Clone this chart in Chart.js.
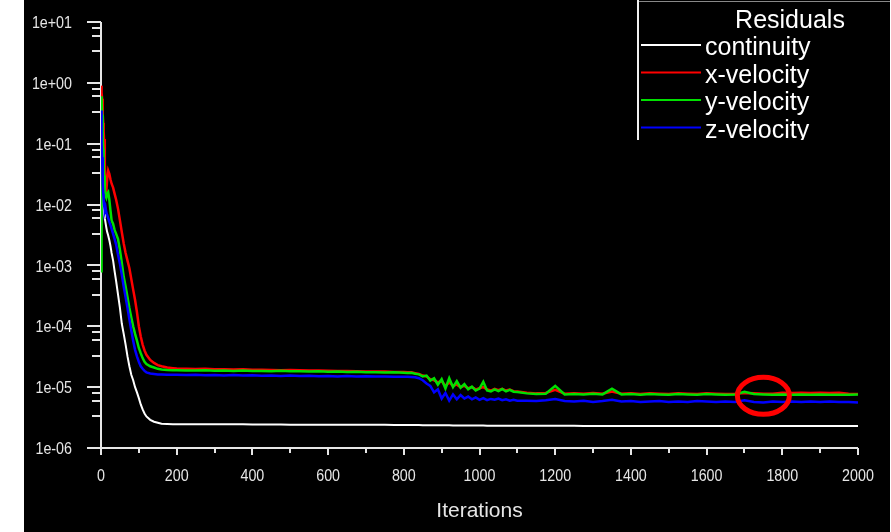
<!DOCTYPE html>
<html>
<head>
<meta charset="utf-8">
<script src="https://cdn.jsdelivr.net/npm/chart.js@4.4.1/dist/chart.umd.min.js"></script>
<style>
  html, body { margin: 0; padding: 0; background: #fff; }
  #wrap { position: absolute; left: 24px; top: 0; width: 866px; height: 532px; }
</style>
</head>
<body>
<div id="wrap"><canvas id="chart" width="866" height="532"></canvas></div>
<script>
// residual history
const iterations = [
  0, 1, 2, 3, 4, 5, 6, 7, 8, 10, 12, 14, 16, 19, 22, 25, 28, 32, 36, 40, 45,
  50, 55, 60, 65, 70, 75, 80, 85, 90, 95, 100, 105, 110, 115, 120, 130, 140, 150, 160, 175, 190,
  200, 225, 250, 275, 300, 325, 350, 375, 400, 425, 450, 475, 500, 525, 550, 575, 600,
  625, 650, 675, 700, 725, 750, 775, 800,
  810, 820, 830, 840, 850, 860, 870, 880, 890, 900, 910, 920, 930, 940, 950,
  960, 970, 980, 990, 1000, 1010, 1020, 1030, 1040, 1050, 1060, 1070, 1080, 1090, 1100,
  1125, 1150, 1175, 1200, 1225, 1250, 1275, 1300, 1325, 1350, 1375, 1400, 1425, 1450,
  1475, 1500, 1525, 1550, 1575, 1600, 1625, 1650, 1675, 1700, 1725, 1750, 1775, 1800,
  1825, 1850, 1875, 1900, 1925, 1950, 1975, 2000
];

const continuity = [
  0.05, 0.03, 0.02, 0.015, 0.012, 0.01, 0.009, 0.008, 0.007, 0.006, 0.005, 0.0042, 0.0036, 0.0031, 0.0026, 0.0021, 0.0016, 0.0012, 0.0008, 0.00055, 0.00033,
  0.0002, 0.00011, 7.5e-5, 5e-5, 3.2e-5, 2.2e-5, 1.6e-5, 1.3e-5, 1e-5, 8.2e-6, 6.6e-6, 5.2e-6, 4.3e-6, 3.7e-6, 3.3e-6, 2.9e-6, 2.7e-6, 2.6e-6, 2.5e-6, 2.48e-6, 2.45e-6,
  2.45e-6, 2.45e-6, 2.45e-6, 2.45e-6, 2.45e-6, 2.45e-6, 2.45e-6, 2.45e-6, 2.43e-6, 2.43e-6, 2.43e-6, 2.43e-6, 2.42e-6, 2.42e-6, 2.42e-6, 2.42e-6, 2.4e-6,
  2.4e-6, 2.4e-6, 2.4e-6, 2.4e-6, 2.4e-6, 2.4e-6, 2.38e-6, 2.38e-6,
  2.38e-6, 2.38e-6, 2.38e-6, 2.38e-6, 2.37e-6, 2.37e-6, 2.37e-6, 2.37e-6, 2.36e-6, 2.36e-6, 2.36e-6, 2.36e-6, 2.35e-6, 2.35e-6, 2.35e-6,
  2.35e-6, 2.35e-6, 2.34e-6, 2.34e-6, 2.34e-6, 2.34e-6, 2.33e-6, 2.33e-6, 2.33e-6, 2.33e-6, 2.32e-6, 2.32e-6, 2.32e-6, 2.32e-6, 2.32e-6,
  2.31e-6, 2.31e-6, 2.31e-6, 2.31e-6, 2.31e-6, 2.31e-6, 2.3e-6, 2.3e-6, 2.3e-6, 2.3e-6, 2.3e-6, 2.3e-6, 2.3e-6, 2.3e-6,
  2.3e-6, 2.3e-6, 2.3e-6, 2.3e-6, 2.3e-6, 2.3e-6, 2.3e-6, 2.3e-6, 2.3e-6, 2.3e-6, 2.3e-6, 2.3e-6, 2.3e-6, 2.3e-6,
  2.3e-6, 2.3e-6, 2.3e-6, 2.3e-6, 2.3e-6, 2.3e-6, 2.3e-6, 2.3e-6
];

const xVelocity = [
  0.9, 0.85, 0.7, 0.55, 0.4, 0.3, 0.22, 0.16, 0.12, 0.05, 0.02, 0.016, 0.025, 0.036, 0.032, 0.026, 0.022, 0.019, 0.015, 0.012, 0.0085,
  0.0055, 0.0035, 0.0023, 0.0016, 0.0012, 0.0009, 0.0006, 0.0004, 0.00027, 0.00017, 0.0001, 6.8e-5, 5e-5, 4e-5, 3.4e-5, 2.8e-5, 2.5e-5, 2.3e-5, 2.2e-5, 2.1e-5, 2.05e-5,
  2.02e-5, 2e-5, 1.98e-5, 2e-5, 1.96e-5, 1.97e-5, 1.95e-5, 1.96e-5, 1.93e-5, 1.94e-5, 1.92e-5, 1.9e-5, 1.91e-5, 1.89e-5, 1.88e-5, 1.87e-5, 1.86e-5,
  1.85e-5, 1.84e-5, 1.82e-5, 1.81e-5, 1.8e-5, 1.8e-5, 1.78e-5, 1.77e-5,
  1.76e-5, 1.75e-5, 1.7e-5, 1.65e-5, 1.55e-5, 1.5e-5, 1.35e-5, 1.3e-5, 1.2e-5, 1.25e-5, 1.05e-5, 1.2e-5, 1.05e-5, 1.1e-5, 1e-5,
  1.05e-5, 9.6e-6, 1e-5, 9.2e-6, 9.6e-6, 1e-5, 9.2e-6, 8.8e-6, 9.4e-6, 8.9e-6, 9.4e-6, 8.8e-6, 9.1e-6, 8.6e-6, 8.5e-6,
  8.1e-6, 7.9e-6, 8e-6, 9e-6, 7.8e-6, 7.9e-6, 7.8e-6, 8e-6, 7.8e-6, 8.5e-6, 7.8e-6, 7.9e-6, 7.7e-6, 7.9e-6,
  7.8e-6, 7.7e-6, 7.9e-6, 7.8e-6, 7.7e-6, 7.9e-6, 7.8e-6, 7.7e-6, 7.8e-6, 8e-6, 7.9e-6, 7.8e-6, 7.8e-6, 8.1e-6,
  8e-6, 8.1e-6, 8e-6, 8.1e-6, 8e-6, 8.1e-6, 7.8e-6, 7.7e-6
];

const yVelocity = [
  8e-4, 0.6, 0.5, 0.3, 0.2, 0.12, 0.08, 0.05, 0.03, 0.018, 0.014, 0.013, 0.015, 0.016, 0.012, 0.008, 0.0055, 0.0048, 0.0038, 0.0033, 0.0027,
  0.0018, 0.0011, 0.00065, 0.00045, 0.0003, 0.0002, 0.00014, 0.0001, 7.5e-5, 5.8e-5, 4.4e-5, 3.6e-5, 3e-5, 2.6e-5, 2.4e-5, 2.2e-5, 2.1e-5, 2e-5, 1.95e-5, 1.92e-5, 1.9e-5,
  1.9e-5, 1.88e-5, 1.87e-5, 1.9e-5, 1.86e-5, 1.87e-5, 1.85e-5, 1.88e-5, 1.84e-5, 1.85e-5, 1.83e-5, 1.86e-5, 1.82e-5, 1.83e-5, 1.8e-5, 1.82e-5, 1.79e-5,
  1.8e-5, 1.77e-5, 1.79e-5, 1.75e-5, 1.76e-5, 1.74e-5, 1.75e-5, 1.72e-5,
  1.7e-5, 1.72e-5, 1.66e-5, 1.62e-5, 1.5e-5, 1.55e-5, 1.28e-5, 1.4e-5, 1.1e-5, 1.35e-5, 9.5e-6, 1.4e-5, 1e-5, 1.25e-5, 9.8e-6,
  1.12e-5, 9.2e-6, 1.02e-5, 8.8e-6, 9.5e-6, 1.22e-5, 8.8e-6, 8.5e-6, 9.2e-6, 8.6e-6, 9.3e-6, 8.5e-6, 9e-6, 8.4e-6, 8.3e-6,
  7.9e-6, 7.7e-6, 7.8e-6, 1.05e-5, 7.6e-6, 7.7e-6, 7.6e-6, 7.8e-6, 7.6e-6, 9.4e-6, 7.6e-6, 7.7e-6, 7.5e-6, 7.7e-6,
  7.6e-6, 7.5e-6, 7.7e-6, 7.6e-6, 7.5e-6, 7.7e-6, 7.6e-6, 7.5e-6, 7.6e-6, 8.4e-6, 7.7e-6, 7.6e-6, 7.5e-6, 7.6e-6,
  7.5e-6, 7.6e-6, 7.5e-6, 7.6e-6, 7.5e-6, 7.5e-6, 7.5e-6, 7.6e-6
];

const zVelocity = [
  0.35, 0.2, 0.1, 0.06, 0.035, 0.022, 0.015, 0.012, 0.01, 0.008, 0.009, 0.0075, 0.0068, 0.006, 0.0052, 0.0046, 0.004, 0.0033, 0.0027, 0.0022, 0.0015,
  0.00107, 0.0007, 0.00045, 0.0003, 0.0002, 0.00013, 8.5e-5, 5.8e-5, 4.1e-5, 3.2e-5, 2.6e-5, 2.2e-5, 2e-5, 1.85e-5, 1.75e-5, 1.68e-5, 1.65e-5, 1.62e-5, 1.62e-5, 1.6e-5, 1.6e-5,
  1.6e-5, 1.58e-5, 1.6e-5, 1.57e-5, 1.59e-5, 1.56e-5, 1.58e-5, 1.55e-5, 1.57e-5, 1.54e-5, 1.56e-5, 1.53e-5, 1.55e-5, 1.52e-5, 1.54e-5, 1.51e-5, 1.53e-5,
  1.5e-5, 1.52e-5, 1.5e-5, 1.51e-5, 1.49e-5, 1.5e-5, 1.48e-5, 1.48e-5,
  1.48e-5, 1.47e-5, 1.45e-5, 1.4e-5, 1.3e-5, 1.15e-5, 1.05e-5, 8.2e-6, 9.2e-6, 6.5e-6, 8e-6, 6e-6, 7.6e-6, 6.3e-6, 7.4e-6,
  6.5e-6, 7e-6, 6.3e-6, 6.8e-6, 6.2e-6, 6.6e-6, 6.1e-6, 6.4e-6, 6.2e-6, 6.5e-6, 6.1e-6, 6.3e-6, 6e-6, 6.2e-6, 6e-6,
  6e-6, 5.9e-6, 6.1e-6, 6.4e-6, 5.9e-6, 5.8e-6, 6e-6, 5.7e-6, 5.9e-6, 6.2e-6, 5.8e-6, 5.9e-6, 5.7e-6, 5.8e-6,
  5.9e-6, 5.7e-6, 5.8e-6, 5.7e-6, 5.9e-6, 5.8e-6, 5.7e-6, 5.8e-6, 5.7e-6, 6.1e-6, 5.7e-6, 5.6e-6, 5.8e-6, 5.7e-6,
  5.8e-6, 5.7e-6, 5.8e-6, 5.7e-6, 5.8e-6, 5.7e-6, 5.7e-6, 5.6e-6
];

const seriesNames = ["continuity", "x-velocity", "y-velocity", "z-velocity"];
const seriesColors = ["#ffffff", "#ff0000", "#00e000", "#0000ff"];
const xTicks = [0, 200, 400, 600, 800, 1000, 1200, 1400, 1600, 1800, 2000];
const xTickLabels = ["0", "200", "400", "600", "800", "1000", "1200", "1400", "1600", "1800", "2000"];
const yTicks = [1e-6, 1e-5, 1e-4, 1e-3, 1e-2, 1e-1, 1, 10];
const yTickLabels = ["1e-06", "1e-05", "1e-04", "1e-03", "1e-02", "1e-01", "1e+00", "1e+01"];
const yMinorSteps = [3.3, 6, 8];
const marked = { x: 1750, y: 7.2e-6 };

const axisColor = "#e6e6e6";
const sans = "'Liberation Sans', Arial, sans-serif";

const toPoints = values => iterations.map((it, i) => ({ x: it, y: values[i] }));

// the original's labels are squeezed sideways, so draw them with a narrowed context
function squeezedText(ctx, text, x, y, align) {
  ctx.save();
  ctx.translate(x, y);
  ctx.scale(0.84, 1);
  ctx.textAlign = align;
  ctx.textBaseline = "middle";
  ctx.fillText(text, 0, 0);
  ctx.restore();
}

const backdrop = {
  id: "backdrop",
  beforeDraw(chart) {
    const ctx = chart.ctx;
    ctx.save();
    ctx.fillStyle = "#000";
    ctx.fillRect(0, 0, chart.width, chart.height);
    ctx.restore();
  },
  beforeDatasetsDraw(chart) {
    const { ctx, chartArea: area, scales: { x, y } } = chart;
    ctx.save();
    ctx.strokeStyle = axisColor;
    ctx.lineWidth = 2;
    ctx.beginPath();
    ctx.moveTo(area.left, area.top);
    ctx.lineTo(area.left, area.bottom);
    ctx.lineTo(area.right, area.bottom);
    yTicks.forEach((v, i) => {
      const py = Math.round(y.getPixelForValue(v));
      ctx.moveTo(area.left - 14, py);
      ctx.lineTo(area.left, py);
      if (i < yTicks.length - 1) {
        yMinorSteps.forEach(m => {
          const p = Math.round(y.getPixelForValue(v * m));
          ctx.moveTo(area.left - 9, p);
          ctx.lineTo(area.left, p);
        });
      }
    });
    xTicks.forEach((v, i) => {
      const px = Math.round(x.getPixelForValue(v));
      ctx.moveTo(px, area.bottom);
      ctx.lineTo(px, area.bottom + 7);
      if (i < xTicks.length - 1) {
        const mx = Math.round(x.getPixelForValue((v + xTicks[i + 1]) / 2));
        ctx.moveTo(mx, area.bottom);
        ctx.lineTo(mx, area.bottom + 5);
      }
    });
    ctx.stroke();

    ctx.fillStyle = axisColor;
    ctx.font = "17px " + sans;
    yTicks.forEach((v, i) => squeezedText(ctx, yTickLabels[i], area.left - 29, y.getPixelForValue(v) + 1.5, "right"));
    xTicks.forEach((v, i) => squeezedText(ctx, xTickLabels[i], x.getPixelForValue(v), area.bottom + 28, "center"));
    ctx.restore();
  },
  afterDatasetsDraw(chart) {
    // red ring marking the converged zone
    const { ctx, scales: { x, y } } = chart;
    ctx.save();
    ctx.strokeStyle = "#ff0000";
    ctx.lineWidth = 5;
    ctx.beginPath();
    ctx.ellipse(x.getPixelForValue(marked.x), y.getPixelForValue(marked.y), 26, 18.5, 0, 0, Math.PI * 2);
    ctx.stroke();
    ctx.restore();
  },
  afterDraw(chart) {
    // legend box in the top right corner, cut off at the bottom like the original
    const ctx = chart.ctx;
    const left = 613, bottom = 140, right = chart.width;
    ctx.save();
    ctx.beginPath();
    ctx.rect(left - 1, 0, right - left + 1, bottom);
    ctx.clip();
    ctx.fillStyle = "#000";
    ctx.fillRect(left, 0, right - left, bottom);
    ctx.fillStyle = "#888";
    ctx.fillRect(left, 1, right - left, 1);
    ctx.fillStyle = "#f0f0f0";
    ctx.fillRect(left, 0, 2, bottom);
    ctx.font = "25px " + sans;
    ctx.fillStyle = "#ffffff";
    ctx.textAlign = "center";
    ctx.textBaseline = "alphabetic";
    ctx.fillText("Residuals", 766, 28);
    ctx.textAlign = "left";
    chart.data.datasets.forEach((ds, i) => {
      const ly = 45 + i * 27.5;
      ctx.strokeStyle = ds.borderColor;
      ctx.lineWidth = 2;
      ctx.beginPath();
      ctx.moveTo(617, ly);
      ctx.lineTo(677, ly);
      ctx.stroke();
      ctx.fillStyle = "#ffffff";
      ctx.fillText(ds.label, 681, ly + 10);
    });
    ctx.restore();
  }
};

const seriesValues = [continuity, xVelocity, yVelocity, zVelocity];

new Chart(document.getElementById("chart"), {
  type: "line",
  data: {
    datasets: seriesNames.map((name, i) => ({
      label: name,
      data: toPoints(seriesValues[i]),
      borderColor: seriesColors[i],
      borderWidth: i === 0 ? 2 : 2.5,
      pointRadius: 0,
      tension: 0,
      order: 4 - i
    }))
  },
  options: {
    responsive: false,
    animation: false,
    events: [],
    layout: { padding: { top: 22, right: 32, left: 0, bottom: 0 } },
    plugins: { legend: { display: false }, tooltip: { enabled: false } },
    scales: {
      x: {
        type: "linear",
        min: 0,
        max: 2000,
        afterBuildTicks: s => { s.ticks = xTicks.map(v => ({ value: v })); },
        afterFit: s => { s.height = 84; },
        grid: { display: false, drawTicks: false },
        border: { display: false },
        ticks: { display: false },
        title: { display: true, text: "Iterations", color: axisColor, font: { family: sans, size: 21 }, padding: { top: 0, bottom: 8 } }
      },
      y: {
        type: "logarithmic",
        min: 1e-6,
        max: 10,
        afterBuildTicks: s => { s.ticks = yTicks.map(v => ({ value: v })); },
        afterFit: s => { s.width = 77; },
        grid: { display: false, drawTicks: false },
        border: { display: false },
        ticks: { display: false }
      }
    }
  },
  plugins: [backdrop]
});
</script>
</body>
</html>
